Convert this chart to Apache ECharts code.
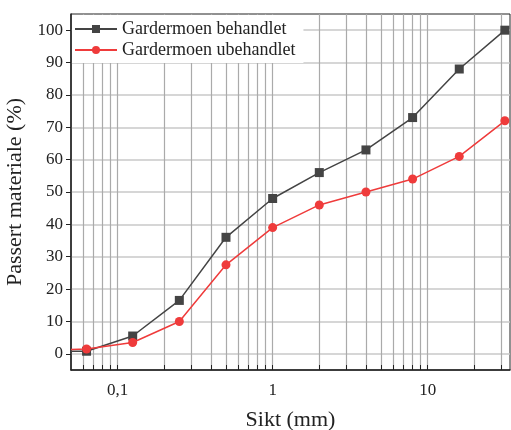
<!DOCTYPE html>
<html>
<head>
<meta charset="utf-8">
<script src="https://cdn.jsdelivr.net/npm/echarts@6/dist/echarts.min.js"></script>
<style>
  html, body { margin: 0; padding: 0; background: #fff; }
  #chart { width: 511px; height: 430px; }
</style>
</head>
<body>
<div id="chart"></div>
<script>
// sieve sizes (mm) and passing percentages
const sieves = [0.05, 0.063, 0.125, 0.25, 0.5, 1, 2, 4, 8, 16, 31.5];
const behandlet = [0.8, 0.8, 5.5, 16.5, 36, 48, 56, 63, 73, 88, 100];
const ubehandlet = [1.3, 1.5, 3.5, 10, 27.5, 39, 46, 50, 54, 61, 72];

const xTicks = [0.06, 0.07, 0.08, 0.09, 0.1, 0.2, 0.3, 0.4, 0.5, 0.6, 0.7, 0.8, 0.9,
  1, 2, 3, 4, 5, 6, 7, 8, 9, 10, 20, 30];
const xLabels = [0.1, 1, 10];
const yTicks = [0, 10, 20, 30, 40, 50, 60, 70, 80, 90, 100];

const font = '"Liberation Serif", "DejaVu Serif", serif';

const toPoints = (vals) => sieves.map((s, i) => {
  const p = { value: [s, vals[i]] };
  if (i === 0) p.symbol = 'none'; // line enters from the left edge
  return p;
});

const chart = echarts.init(document.getElementById('chart'));

chart.setOption({
  animation: false,
  grid: {
    left: 71, right: 1, top: 14, bottom: 60,
    outerBoundsMode: 'none',
    containLabel: false,
    show: true, borderColor: '#222', borderWidth: 1
  },
  legend: {
    orient: 'vertical',
    left: 72, top: 15,
    padding: [5, 8, 4, 2],
    itemGap: 3,
    itemWidth: 42, itemHeight: 10,
    backgroundColor: '#fff',
    textStyle: { fontFamily: font, fontSize: 18, color: '#222' }
  },
  xAxis: {
    type: 'log',
    logBase: 10,
    min: 0.05, max: 34,
    name: 'Sikt (mm)',
    nameLocation: 'middle',
    nameGap: 39,
    nameTextStyle: { fontFamily: font, fontSize: 22, color: '#222' },
    axisLine: { show: true, onZero: false, lineStyle: { color: '#222', width: 1.5 } },
    axisTick: { show: true, inside: true, length: 5, customValues: xTicks, lineStyle: { color: '#222' } },
    axisLabel: {
      customValues: xLabels,
      fontFamily: font, fontSize: 17, color: '#222', margin: 12,
      formatter: (v) => String(v).replace('.', ',')
    },
    splitLine: { show: true, lineStyle: { color: '#aaaaaa', width: 1.2 } }
  },
  yAxis: {
    type: 'value',
    min: -5, max: 105,
    name: 'Passert materiale (%)',
    nameLocation: 'middle',
    nameGap: 30,
    nameTextStyle: { fontFamily: font, fontSize: 22, color: '#222' },
    axisLine: { show: true, lineStyle: { color: '#222', width: 1.5 } },
    axisTick: { show: true, length: 5, customValues: yTicks, lineStyle: { color: '#222' } },
    axisLabel: { customValues: yTicks, fontFamily: font, fontSize: 17, color: '#222', margin: 8 },
    splitLine: { show: true, lineStyle: { color: '#c8c8c8', width: 1.5 } }
  },
  series: [
    {
      name: 'Gardermoen behandlet',
      type: 'line',
      data: toPoints(behandlet),
      symbol: 'rect',
      symbolSize: 9,
      color: '#444444',
      lineStyle: { width: 1.5 },
      z: 3
    },
    {
      name: 'Gardermoen ubehandlet',
      type: 'line',
      data: toPoints(ubehandlet),
      symbol: 'circle',
      symbolSize: 9,
      color: '#ef3b3b',
      lineStyle: { width: 1.5 },
      z: 4
    }
  ]
});
</script>
</body>
</html>
